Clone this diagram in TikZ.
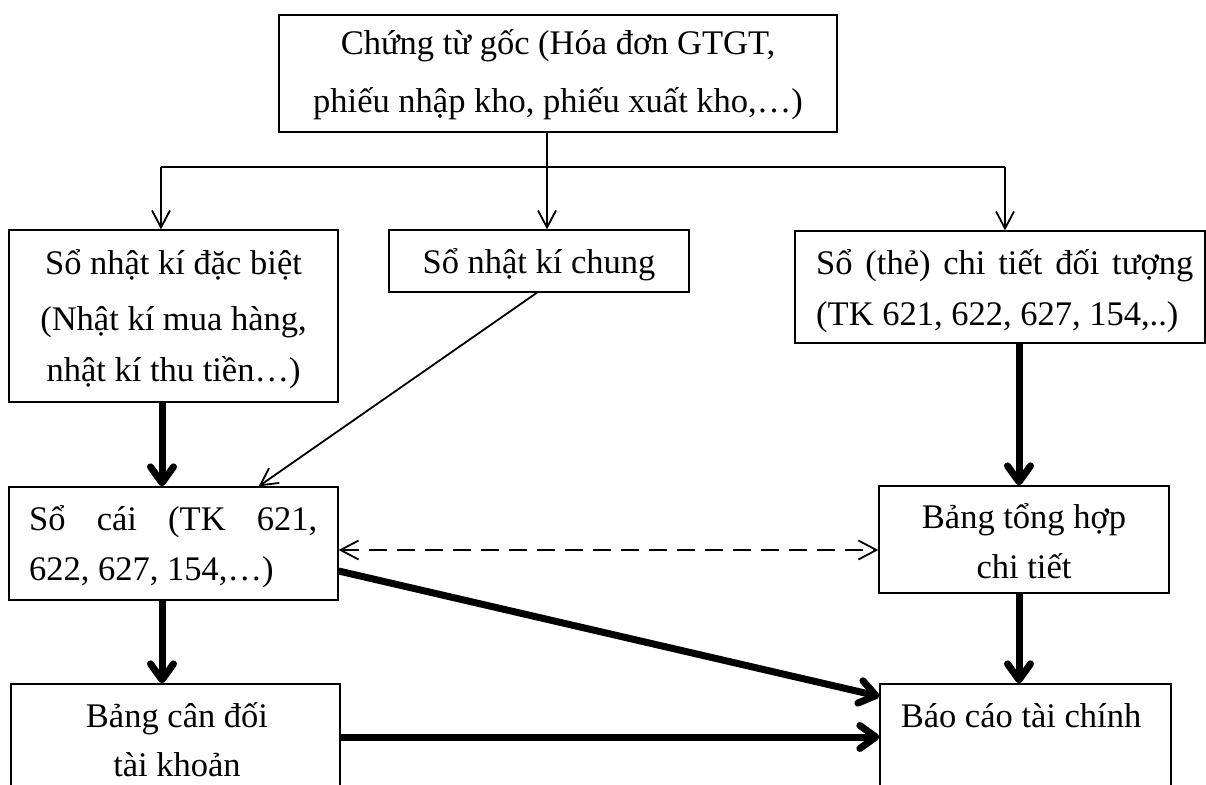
\documentclass[tikz,border=0pt]{standalone}
\usepackage{fontspec}
\setmainfont{Liberation Serif}
\usetikzlibrary{arrows.meta}
\begin{document}
\begin{tikzpicture}[x=1pt,y=-1pt,
  box/.style={draw, line width=1.3pt, inner sep=0pt, rectangle},
  txt/.style={anchor=base, inner sep=0pt, font=\fontsize{34.5}{40}\selectfont},
  txtl/.style={txt, anchor=base west},
  thinline/.style={line width=1.8pt},
  thinarr/.style={line width=1.8pt, -{Straight Barb[length=17pt,width=18pt]}},
  thickarr/.style={line width=7pt, -{Straight Barb[length=16pt,width=23pt,round]}},
  dasharr/.style={line width=1.8pt, dash pattern=on 18pt off 10pt,
    {Straight Barb[length=18pt,width=19pt]}-{Straight Barb[length=18pt,width=19pt]}},
]
\useasboundingbox (0,0) rectangle (1206,784);
\fill[white] (0,0) rectangle (1206,784);
\clip (0,0) rectangle (1206,784);

% boxes
\node[box, minimum width=558pt, minimum height=117pt] (chungtu) at (558,73.5) {};
\node[box, minimum width=329pt, minimum height=172pt] (nkdb) at (173.5,316) {};
\node[box, minimum width=300pt, minimum height=62pt] (nkc) at (539,261) {};
\node[box, minimum width=410pt, minimum height=112pt] (sct) at (1000,287) {};
\node[box, minimum width=329pt, minimum height=113pt] (socai) at (173.5,543.5) {};
\node[box, minimum width=290pt, minimum height=107pt] (tonghop) at (1024,539.5) {};
\node[box, minimum width=329pt, minimum height=136pt] (candoi) at (175.5,752) {};
\node[box, minimum width=291pt, minimum height=136pt] (baocao) at (1025.5,752) {};

% texts
\node[txt] (t-ct1) at (558,55) {Chứng từ gốc (Hóa đơn GTGT,};
\node[txt] (t-ct2) at (558,112) {phiếu nhập kho, phiếu xuất kho,…)};
\node[txt] (t-db1) at (173.5,274) {Sổ nhật kí đặc biệt};
\node[txt] (t-db2) at (173.5,330) {(Nhật kí mua hàng,};
\node[txt] (t-db3) at (173.5,381) {nhật kí thu tiền…)};
\node[txt] (t-nkc) at (539,273) {Sổ nhật kí chung};
\node[txtl] (t-sct1) at (816,274) {\makebox[377pt][s]{Sổ (thẻ) chi tiết đối tượng}};
\node[txtl] (t-sct2) at (816,325) {(TK 621, 622, 627, 154,..)};
\node[txtl] (t-sc1) at (29,530) {\makebox[288pt][s]{Sổ cái (TK 621,}};
\node[txtl] (t-sc2) at (29,580) {622, 627, 154,…)};
\node[txt] (t-th1) at (1024,528) {Bảng tổng hợp};
\node[txt] (t-th2) at (1024,578) {chi tiết};
\node[txt] (t-cd1) at (177,727) {Bảng cân đối};
\node[txt] (t-cd2) at (177,776) {tài khoản};
\node[txt] (t-bc) at (1021,727) {Báo cáo tài chính};

% helper coordinates
\coordinate (split) at (547,167);
\coordinate (bl) at (161,167);
\coordinate (br) at (1005,167);
\coordinate (xl) at (162,0);
\coordinate (xr) at (1019,0);
\coordinate (yd) at (0,550);
\coordinate (yb) at (0,737);

% distribution from the source documents
\draw[thinline] (split |- chungtu.south) -- (split);
\draw[thinline] (bl) -- (br);
\draw[thinarr] (bl) -- (bl |- nkdb.north);
\draw[thinarr] (split) -- (split |- nkc.north);
\draw[thinarr] (br) -- (br |- sct.north);

% general journal to ledger
\draw[thinarr] ([xshift=-2pt]nkc.south) -- ([xshift=-80pt]socai.north east);

% main flows
\draw[thickarr] (nkdb.south -| xl) -- (socai.north -| xl);
\draw[thickarr] (sct.south -| xr) -- (tonghop.north -| xr);
\draw[thickarr] (socai.south -| xl) -- (candoi.north -| xl);
\draw[thickarr] (tonghop.south -| xr) -- (baocao.north -| xr);
\draw[thickarr] ([yshift=-27.5pt]socai.east) -- ([yshift=-13pt]baocao.north west);
\draw[thickarr] (candoi.east |- yb) -- (baocao.west |- yb);

% reconciliation
\draw[dasharr] (socai.east |- yd) -- (tonghop.west |- yd);
\end{tikzpicture}
\end{document}
